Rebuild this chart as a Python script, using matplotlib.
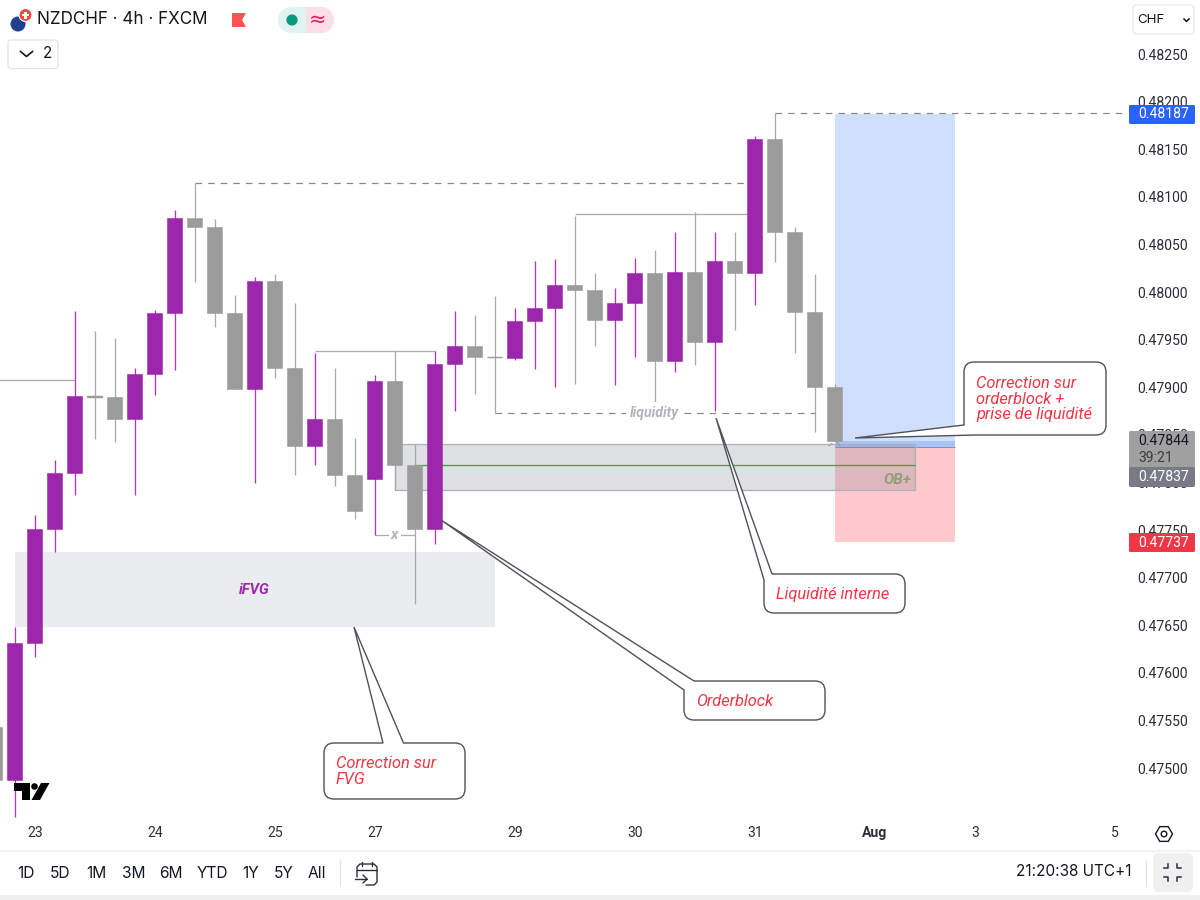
import matplotlib
matplotlib.use("Agg")
import matplotlib.pyplot as plt
from matplotlib.patches import Rectangle, FancyBboxPatch, Circle, Polygon, PathPatch, RegularPolygon
from matplotlib.path import Path

# ---- data -------------------------------------------------------------
bars = list(range(-1, 42))
opens = [0.47543, 0.47487, 0.47631, 0.47751, 0.47810, 0.47891, 0.47890, 0.47867, 0.47914, 0.47978,
         0.48078, 0.48068, 0.47978, 0.47898, 0.48012, 0.47920, 0.47838, 0.47867, 0.47808, 0.47804,
         0.47907, 0.47818, 0.47751, 0.47924, 0.47943, 0.47932, 0.47931, 0.47970, 0.47983, 0.48007,
         0.48002, 0.47971, 0.47988, 0.48020, 0.47928, 0.48021, 0.47948, 0.48033, 0.48020, 0.48161,
         0.48063, 0.47979, 0.47900]
highs = [0.47543, 0.47648, 0.47766, 0.47824, 0.47980, 0.47959, 0.47952, 0.47920, 0.47981, 0.48086,
         0.48115, 0.48077, 0.47997, 0.48016, 0.48019, 0.47988, 0.47936, 0.47920, 0.47847, 0.47913,
         0.47938, 0.47840, 0.47938, 0.47980, 0.47976, 0.47996, 0.47983, 0.48033, 0.48035, 0.48080,
         0.48020, 0.48004, 0.48036, 0.48044, 0.48063, 0.48084, 0.48063, 0.48063, 0.48164, 0.48188,
         0.48068, 0.48019, 0.47903]
lows = [0.47487, 0.47449, 0.47617, 0.47727, 0.47787, 0.47846, 0.47842, 0.47787, 0.47892, 0.47918,
        0.48011, 0.47963, 0.47898, 0.47799, 0.47910, 0.47808, 0.47818, 0.47796, 0.47762, 0.47745,
        0.47792, 0.47672, 0.47735, 0.47875, 0.47893, 0.47873, 0.47929, 0.47919, 0.47900, 0.47903,
        0.47943, 0.47902, 0.47932, 0.47884, 0.47916, 0.47923, 0.47875, 0.47960, 0.47986, 0.48032,
        0.47936, 0.47853, 0.47844]
closes = [0.47487, 0.47631, 0.47751, 0.47810, 0.47891, 0.47890, 0.47867, 0.47914, 0.47978, 0.48078,
          0.48068, 0.47978, 0.47898, 0.48012, 0.47920, 0.47838, 0.47867, 0.47808, 0.47770, 0.47907,
          0.47818, 0.47751, 0.47924, 0.47943, 0.47932, 0.47932, 0.47970, 0.47983, 0.48007, 0.48002,
          0.47971, 0.47988, 0.48020, 0.47928, 0.48021, 0.47948, 0.48033, 0.48020, 0.48161, 0.48063,
          0.47979, 0.47900, 0.47844]

price_ticks = [0.48250, 0.48200, 0.48150, 0.48100, 0.48050, 0.48000, 0.47950, 0.47900, 0.47850,
               0.47800, 0.47750, 0.47700, 0.47650, 0.47600, 0.47550, 0.47500]
time_tick_bars = [1, 7, 13, 18, 25, 31, 37, 43, 48, 55]
time_tick_labels = ['23', '24', '25', '27', '29', '30', '31', 'Aug', '3', '5']

fvg_zone = (0, 24, 0.476481, 0.477264)
ob_zone = (19, 45, 0.477920, 0.478403)
ob_mid = (20, 45, 0.478183)
position_bars = (41, 47)
entry_price, target_price, stop_price, last_price = 0.47837, 0.48187, 0.47737, 0.47844

solid_levels = [(-2, 3, 0.479076), (28, 37, 0.480819), (15, 21, 0.479380), (18, 20, 0.477447)]
dashed_levels = [(9, 37, 0.481145), (24, 40, 0.478729), (38, 55.5, 0.48188)]

range_labels = ['1D', '5D', '1M', '3M', '6M', 'YTD', '1Y', '5Y', 'All']
range_pos = [26, 60, 96, 134, 171, 212, 251, 284, 317]

PURPLE, PURPLE_W, GRAY, GRAY_W = '#9c27ac', '#b62fd2', '#9b9b9b', '#a9a9a9'
RED, INK = '#f23645', '#131722'
PX = 0.72  # one pixel, in points

# ---- chart -------------------------------------------------------------
fig = plt.figure(figsize=(12, 9), dpi=100, facecolor='white')
ax = fig.add_axes([0, 82 / 900, 1126 / 1200, 818 / 900])
ax.set_xlim((0 - 14.8) / 20, (1126 - 14.8) / 20)
ax.set_ylim(0.475 - 50 / 95200, 0.475 + 768 / 95200)
for s in ax.spines.values():
    s.set_visible(False)

ax.yaxis.tick_right()
ax.set_yticks(price_ticks, [f'{p:.5f}' for p in price_ticks], family='Roboto', fontsize=10.1, color='#2a2e39')
ax.set_xticks(time_tick_bars, time_tick_labels, family='Roboto', fontsize=10.1, color='#2a2e39')
ax.get_xticklabels()[7].set_fontweight('bold')
ax.tick_params(axis='y', length=0, pad=8.0)
ax.tick_params(axis='x', length=0, pad=6)

# zones
ax.add_patch(Rectangle((fvg_zone[0], fvg_zone[2]), fvg_zone[1] - fvg_zone[0], fvg_zone[3] - fvg_zone[2],
                       fc='#ebecf0', ec='none', zorder=1))
x0, x1 = position_bars
ax.add_patch(Rectangle((x0, entry_price), x1 - x0, target_price - entry_price, fc='#d1dffe', ec='none', zorder=1))
ax.add_patch(Rectangle((x0, stop_price), x1 - x0, entry_price - stop_price, fc='#ffc9ce', ec='none', zorder=1))
ax.add_patch(Rectangle((x0, entry_price), x1 - x0, last_price - entry_price, fc='#a9c4fb', ec='none', zorder=1.1))
ax.hlines(entry_price, x0, x1, colors='#8d93a8', lw=PX, zorder=1.2)
ax.add_patch(Rectangle((ob_zone[0], ob_zone[2]), ob_zone[1] - ob_zone[0], ob_zone[3] - ob_zone[2],
                       fc=(0.47, 0.48, 0.53, 0.23), ec='#aeb0b8', lw=PX * 1.3, zorder=1.5))
ax.hlines(ob_mid[2], ob_mid[0], ob_mid[1], colors='#43a047', lw=PX * 1.3, zorder=1.6)

# levels
for a, b, p in solid_levels:
    ax.hlines(p, a, b, colors='#adadad', lw=PX * 1.3, zorder=2)
for a, b, p in dashed_levels:
    ax.hlines(p, a, b, colors='#85888f', lw=PX * 1.2, linestyles=(0, (5.5, 5)), zorder=2)

# candles
for b, o, h, l, c in zip(bars, opens, highs, lows, closes):
    up = c > o
    body, wick = (PURPLE, PURPLE_W) if up else (GRAY, GRAY_W)
    ax.vlines(b, l, h, colors=wick, lw=PX * 1.3, zorder=3)
    lo, hi = min(o, c), max(o, c)
    edge = 1.0 if hi - lo < 2e-5 else 0.4
    ax.bar(b, hi - lo, bottom=lo, width=0.76, color=body, edgecolor=body, lw=edge, zorder=3.1)

# text on the chart
ibold = dict(family='Roboto', style='italic', weight='bold', ha='center', va='center', zorder=4)
ax.text(11.98, 0.476873, 'iFVG', color=PURPLE, fontsize=10.6, **ibold)
ax.text(31.98, 0.478729, 'liquidity', color='#b2b5be', fontsize=10.2,
        bbox=dict(fc='white', ec='none', pad=3), **ibold)
ax.text(19, 0.477447, 'x', color='#b2b5be', fontsize=11,
        bbox=dict(fc='white', ec='none', pad=1.5), **ibold)
ax.text(44.15, 0.47802, 'OB+', color='#8f9f78', fontsize=11, **ibold)

# ---- overlay, in pixels, for callouts and the app's controls -----------
ui = fig.add_axes([0, 0, 1, 1], facecolor='none')
ui.set_xlim(0, 1200)
ui.set_ylim(900, 0)
ui.axis('off')


def callout(x0, y0, x1, y1, r=10, top=None, tl=None, bl=None):
    v, k = [], []
    def move(p): v.append(p); k.append(Path.MOVETO)
    def line(p): v.append(p); k.append(Path.LINETO)
    def curve(c, e): v.extend([c, e]); k.extend([Path.CURVE3, Path.CURVE3])
    if tl:
        move(tl[-1])
    else:
        move((x0 + r, y0))
    if top:
        for p in top:
            line(p)
    line((x1 - r, y0)); curve((x1, y0), (x1, y0 + r))
    line((x1, y1 - r)); curve((x1, y1), (x1 - r, y1))
    if bl:
        for p in bl:
            line(p)
    else:
        line((x0 + r, y1)); curve((x0, y1), (x0, y1 - r))
    if tl:
        for p in tl:
            line(p)
    else:
        line((x0, y0 + r)); curve((x0, y0), (x0 + r, y0))
    ui.add_patch(PathPatch(Path(v, k), fc='white', ec='#4f525c', lw=1.0, zorder=5))


callout(324, 743, 465, 799, top=[(383, 743), (354, 627), (403.5, 743)])
callout(684, 681, 825, 720, tl=[(684, 690), (441, 520), (694, 681)])
callout(764, 574, 905, 613, tl=[(764, 580), (716, 418), (772, 574)])
callout(964, 362, 1106, 435, bl=[(976, 435), (855, 438), (964, 425)])

note = dict(family='Roboto', style='italic', fontsize=11.8, color=RED, ha='left', va='center', zorder=6)
for x, y, s in [(336, 763, 'Correction sur'), (336, 779, 'FVG'), (696, 701, 'Orderblock'),
                (776, 594, 'Liquidité interne'), (976, 383, 'Correction sur'),
                (976, 399, 'orderblock +'), (976, 415, 'prise de liquidité')]:
    ui.text(x, y, s, **note)

# tiny handles at the order's corner
ui.plot([829, 832], [446, 443.5], color='#a0a3ab', lw=0.8, zorder=4)
ui.plot([837, 840], [442.5, 445.5], color='#8d93a8', lw=0.8, zorder=4)

# price tags
tag = dict(family='Roboto', fontsize=10.1, ha='left', va='center', zorder=7)
def box(x, y, w, h, fc, ec='none', lw=0, r=1.5, z=6):
    ui.add_patch(FancyBboxPatch((x + r, y + r), w - 2 * r, h - 2 * r, boxstyle=f'round,pad={r},rounding_size={r}',
                                fc=fc, ec=ec, lw=lw, zorder=z))
box(1129, 105, 66, 19, '#2962ff')
ui.text(1138, 114.5, f'{target_price:.5f}', color='white', **tag)
box(1129, 431, 66, 37, '#a0a0a0')
ui.text(1138, 441, f'{last_price:.5f}', color=INK, **tag)
ui.text(1138, 458, '39:21', color='#3b3b3b', **tag)
box(1129, 467, 66, 20, '#787b86')
ui.text(1138, 477, f'{entry_price:.5f}', color='white', **tag)
box(1129, 533, 66, 19, RED)
ui.text(1138, 543, f'{stop_price:.5f}', color='white', **tag)

# header
ui.add_patch(Circle((18, 24), 7.5, fc='#1f3f8f', ec='none', zorder=6))
ui.add_patch(Circle((25.5, 15), 6.5, fc='#f0483e', ec='white', lw=0.8, zorder=6.1))
ui.add_patch(Rectangle((22, 13.7), 7, 2.6, fc='white', ec='none', zorder=6.2))
ui.add_patch(Rectangle((24.2, 11.5), 2.6, 7, fc='white', ec='none', zorder=6.2))
ui.text(37, 20, 'NZDCHF · 4h · FXCM', family='Inter', fontsize=12.3, color=INK, va='center', ha='left', zorder=6)
ui.add_patch(Polygon([(232, 13), (246, 13), (242, 20), (246, 27), (232, 27)], fc='#fb5252', ec='none', zorder=6))
ui.add_patch(Circle((291, 20), 13, fc='#e0f3ef', ec='none', zorder=6))
ui.add_patch(Rectangle((291, 7), 15, 26, fc='#e0f3ef', ec='none', zorder=6))
ui.add_patch(Circle((321, 20), 13, fc='#fbdfe8', ec='none', zorder=6))
ui.add_patch(Rectangle((306, 7), 15, 26, fc='#fbdfe8', ec='none', zorder=6))
ui.add_patch(Circle((292, 20), 5.6, fc='#089981', ec='none', zorder=7))
ui.text(318, 20, '≈', family='DejaVu Sans', fontsize=15, color='#e91e63', ha='center', va='center', zorder=7)

box(8, 40, 50, 28.5, 'white', ec='#e0e3eb', lw=0.9, r=3)
ui.plot([20.5, 26.5, 32.5], [51.5, 56.5, 51.5], color=INK, lw=1.2, zorder=7)
ui.text(48, 54, '2', family='Inter', fontsize=11, color=INK, ha='center', va='center', zorder=7)
box(1133, 5, 61, 29, 'white', ec='#e8e9ee', lw=0.9, r=4)
ui.text(1137, 20, 'CHF', family='Inter', fontsize=9.6, color=INK, ha='left', va='center', zorder=7)
ui.plot([1184, 1186.5, 1189], [19, 21.5, 19], color=INK, lw=1.1, zorder=7)

# logo
ui.add_patch(Polygon([(14, 783), (30, 783), (30, 800), (22, 800), (22, 791), (14, 791)], fc='#000000', ec='none', zorder=6))
ui.add_patch(Circle((34.5, 786.5), 3.3, fc='#000000', ec='none', zorder=6))
ui.add_patch(Polygon([(41, 783), (49.5, 783), (40, 800), (31.5, 800)], fc='#000000', ec='none', zorder=6))

# gear
ui.add_patch(RegularPolygon((1164, 834), 6, radius=8.5, orientation=3.14159 / 2, fc='none', ec=INK, lw=1, zorder=6))
ui.add_patch(Circle((1164, 834), 2.8, fc='none', ec=INK, lw=1, zorder=6))

# bottom bar
ui.plot([0, 1200], [850.5, 850.5], color='#f0f3fa', lw=1.6, zorder=6)
ui.add_patch(Rectangle((0, 895), 1200, 5, fc='#f0f0f0', ec='none', zorder=6))
for s, x in zip(range_labels, range_pos):
    ui.text(x, 873, s, family='Inter', fontsize=11.2, color=INK, ha='center', va='center', zorder=7)
ui.plot([339.5, 339.5], [860, 886], color='#e0e3eb', lw=0.8, zorder=6)
ui.plot([1145.5, 1145.5], [860, 886], color='#e0e3eb', lw=0.8, zorder=6)
ui.text(1132, 872, '21:20:38 UTC+1', family='Inter', fontsize=11, color=INK, ha='right', va='center', zorder=7)

# calendar icon
c = dict(color='#2a2e39', lw=1.0, zorder=7, solid_capstyle='round')
ui.plot([357, 357, 360, 374, 377, 377, 374, 366], [877, 867, 864, 864, 867, 882, 885, 885], **c)
ui.plot([357, 377], [870, 870], **c)
ui.plot([362, 362], [862, 866], **c)
ui.plot([372, 372], [862, 866], **c)
ui.plot([355, 367], [879, 879], **c)
ui.plot([363, 367, 363], [875, 879, 883], **c)

# full-screen button
box(1153, 853, 40, 39, '#f0f0f0', r=6)
d = dict(color='#2a2e39', lw=1.1, zorder=7)
ui.plot([1164, 1168, 1168], [868, 868, 864], **d)
ui.plot([1177, 1177, 1181], [864, 868, 868], **d)
ui.plot([1164, 1168, 1168], [877, 877, 881], **d)
ui.plot([1177, 1177, 1181], [881, 877, 877], **d)

fig.savefig('out.png', dpi=100)
